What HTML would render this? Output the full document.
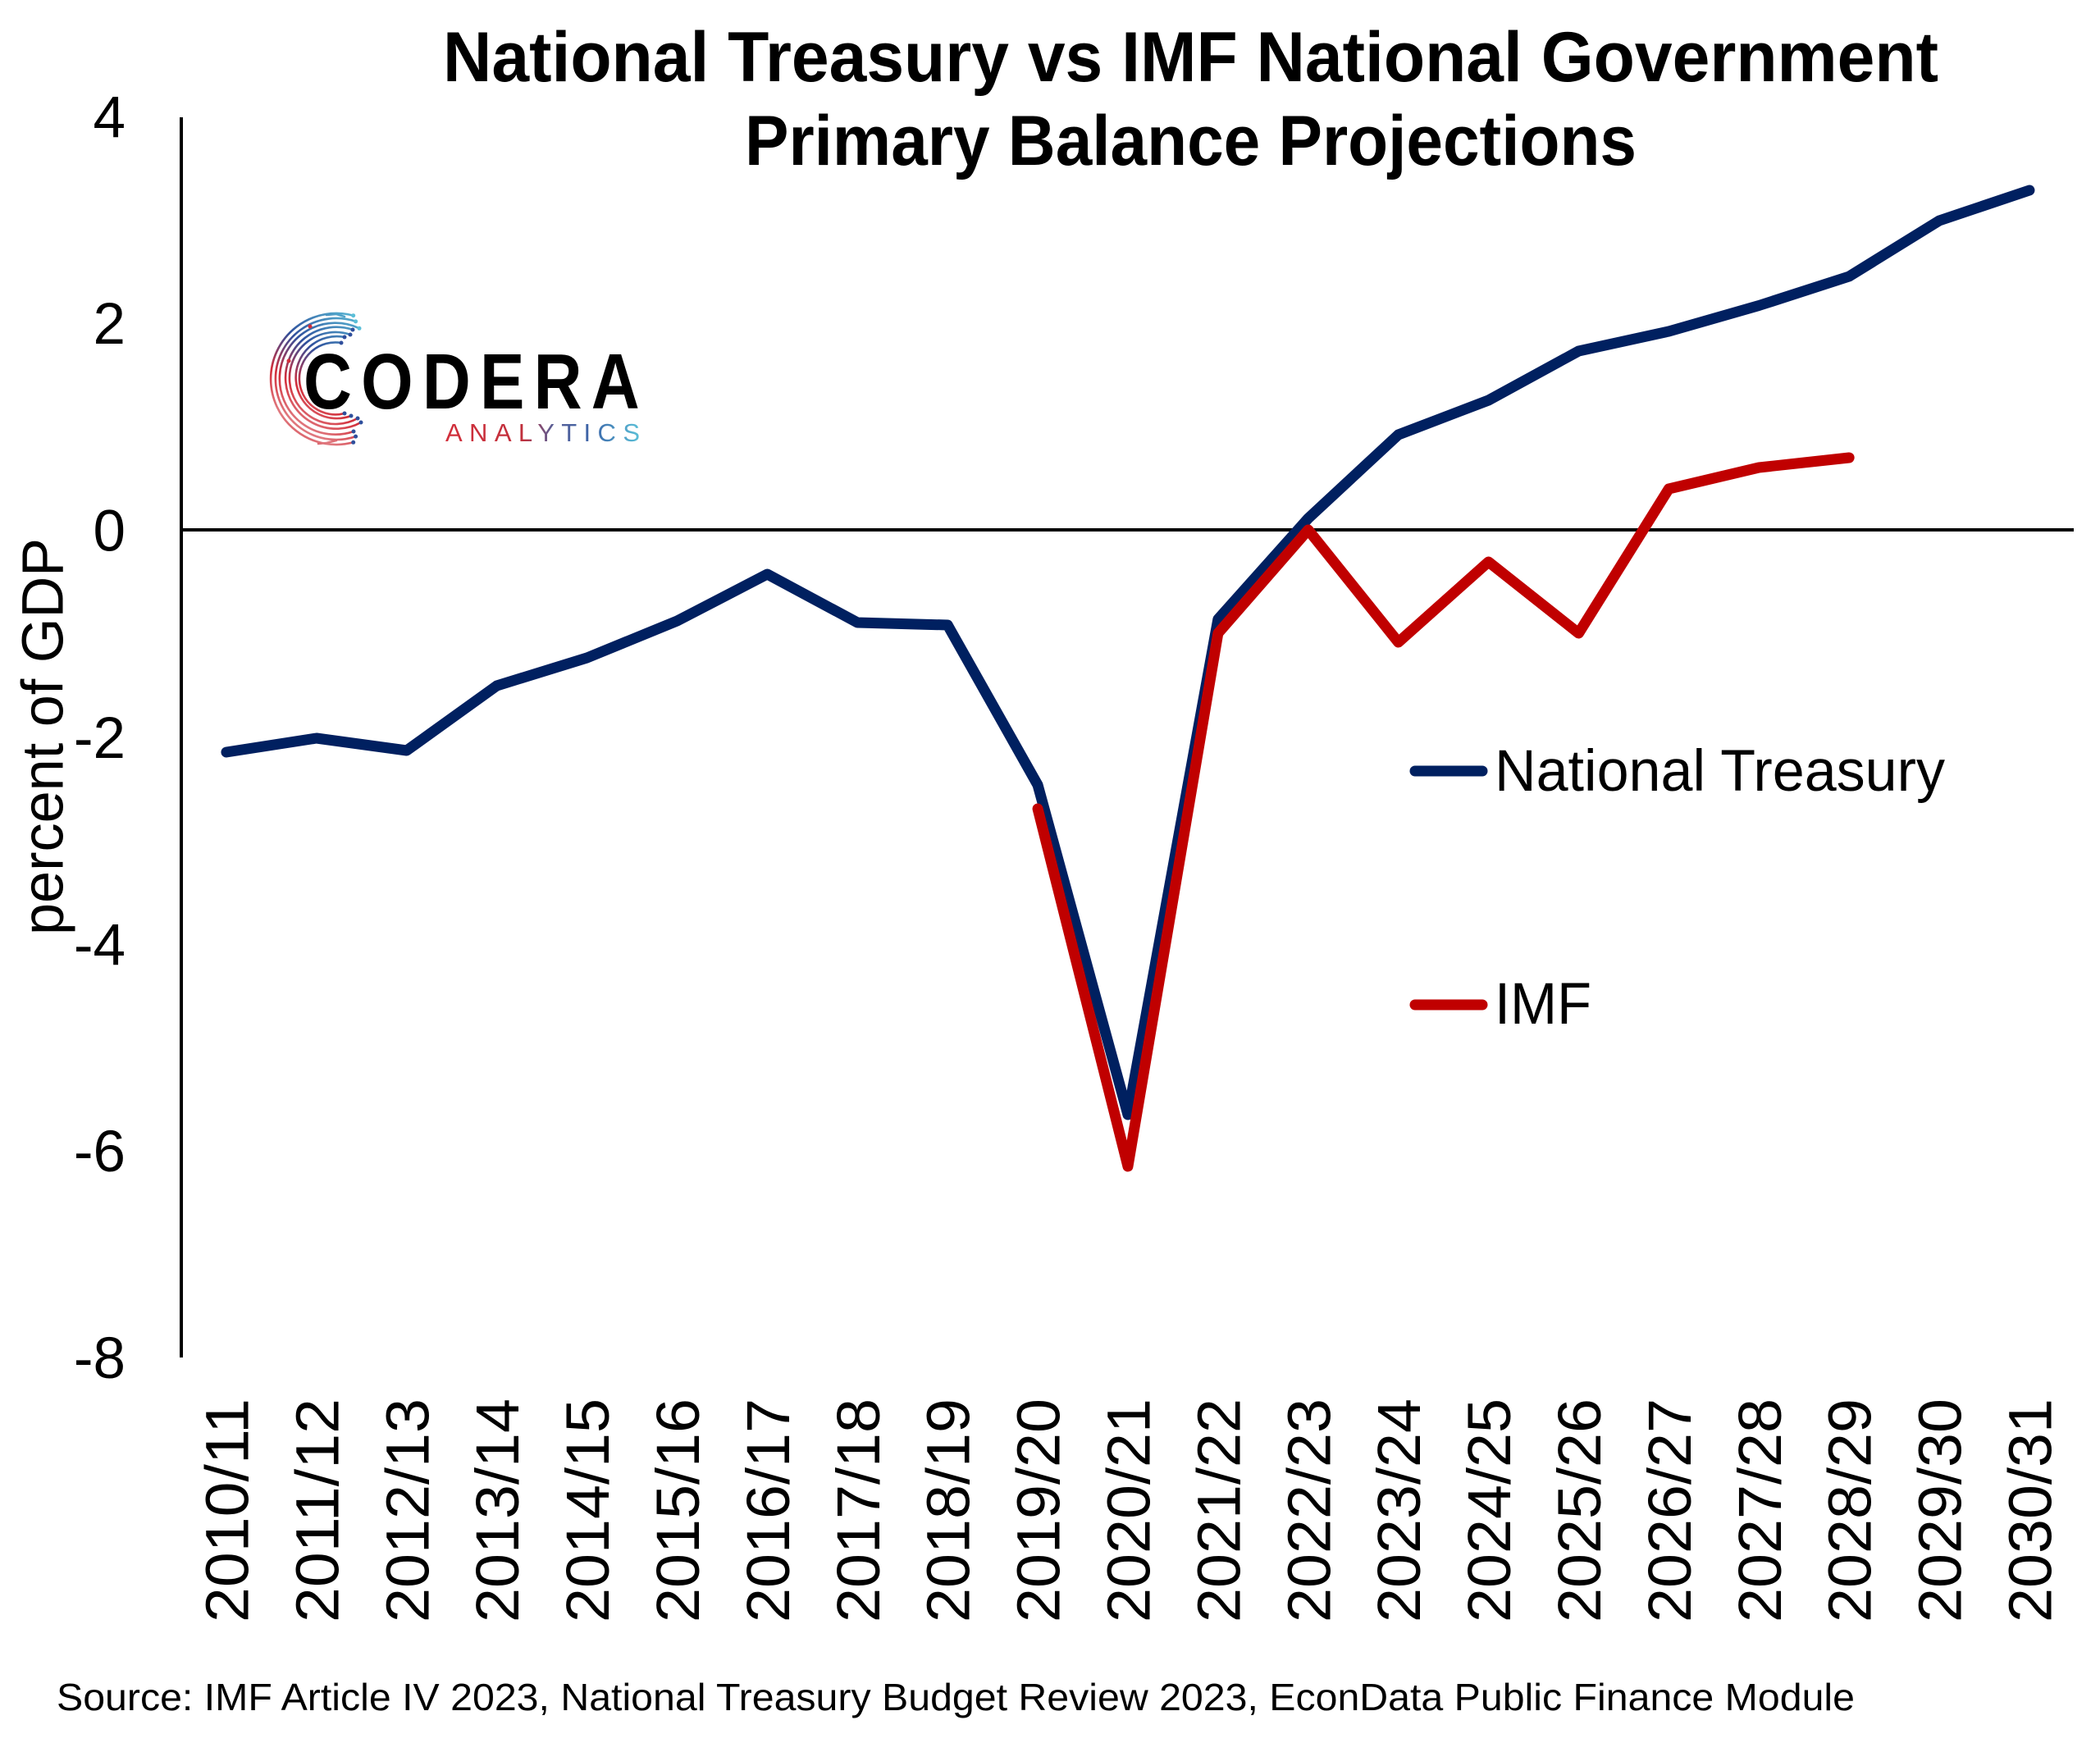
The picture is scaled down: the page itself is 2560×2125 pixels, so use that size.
<!DOCTYPE html>
<html>
<head>
<meta charset="utf-8">
<style>
  html, body { margin: 0; padding: 0; background: #ffffff; }
  svg { display: block; }
  text { font-family: "Liberation Sans", "DejaVu Sans", sans-serif; fill: #000; }
</style>
</head>
<body>
<svg width="2560" height="2125" viewBox="0 0 2560 2125" xmlns="http://www.w3.org/2000/svg">
  <defs>
    <linearGradient id="arcGrad" gradientUnits="userSpaceOnUse" x1="440" y1="380" x2="335" y2="545">
      <stop offset="0" stop-color="#5bbfd8"/>
      <stop offset="0.35" stop-color="#2f4f9c"/>
      <stop offset="0.6" stop-color="#d22f3b"/>
      <stop offset="0.8" stop-color="#e07a80"/>
      <stop offset="1" stop-color="#d22f3b"/>
    </linearGradient>
    <linearGradient id="txtGrad" gradientUnits="userSpaceOnUse" x1="543" y1="0" x2="780" y2="0">
      <stop offset="0" stop-color="#d22f3b"/>
      <stop offset="0.4" stop-color="#c0303c"/>
      <stop offset="0.55" stop-color="#5a5f96"/>
      <stop offset="0.75" stop-color="#3b64a8"/>
      <stop offset="1" stop-color="#5bc0d8"/>
    </linearGradient>
  </defs>

  <rect x="0" y="0" width="2560" height="2125" fill="#ffffff"/>

  <!-- Title -->
  <text x="1451.5" y="99" font-size="86" font-weight="bold" text-anchor="middle" textLength="1823" lengthAdjust="spacingAndGlyphs">National Treasury vs IMF National Government</text>
  <text x="1451.5" y="201" font-size="86" font-weight="bold" text-anchor="middle" textLength="1087" lengthAdjust="spacingAndGlyphs">Primary Balance Projections</text>

  <!-- Logo -->
  <g fill="none" stroke="url(#arcGrad)" stroke-width="2.6" stroke-linecap="round">
    <path d="M 430.7 384.7 A 80 80 0 1 0 430.7 539.3"/>
    <path d="M 433.6 391.9 A 74 74 0 1 0 433.6 532.1"/>
    <path d="M 438.0 400.3 A 68 68 0 1 0 431.0 526.0"/>
    <path d="M 430.0 402.0 A 62 62 0 1 0 440.0 515.0"/>
    <path d="M 427.0 408.0 A 56 56 0 1 0 436.0 510.0"/>
    <path d="M 420.0 411.0 A 50 50 0 1 0 428.0 507.0"/>
    <path d="M 416.0 418.0 A 44 44 0 1 0 420.0 504.0"/>
    <path d="M 398.0 384.0 L 410 383 L 420 386"/>
    <path d="M 388.0 541.0 L 398 540 L 410 537"/>
  </g>
  <g fill="#2f4f9c">
    <circle cx="430.7" cy="384.7" r="2.5" fill="#5bbfd8"/>
    <circle cx="433.6" cy="391.9" r="2.5" fill="#5bbfd8"/>
    <circle cx="438" cy="400.3" r="2.5" fill="#5bbfd8"/>
    <circle cx="430" cy="402" r="2.5"/>
    <circle cx="427" cy="408" r="2.5"/>
    <circle cx="420" cy="411" r="2.5"/>
    <circle cx="416" cy="418" r="2.5"/>
    <circle cx="430.7" cy="539.3" r="2.5"/>
    <circle cx="433.6" cy="532.1" r="2.5"/>
    <circle cx="431" cy="526" r="2.5"/>
    <circle cx="440" cy="515" r="2.5"/>
    <circle cx="436" cy="510" r="2.5"/>
    <circle cx="428" cy="507" r="2.5"/>
    <circle cx="420" cy="504" r="2.5"/>
    <circle cx="378" cy="398" r="2.5" fill="#d22f3b"/>
    <circle cx="352" cy="440" r="2.5" fill="#d22f3b"/>
  </g>
  <g transform="translate(370,498) scale(0.85,1)">
    <text x="0" y="0" font-size="96" font-weight="bold" textLength="482" lengthAdjust="spacing">CODERA</text>
  </g>
  <text x="543" y="538" font-size="31" textLength="237" lengthAdjust="spacing" style="fill:url(#txtGrad)">ANALYTICS</text>

  <!-- Y axis title -->
  <text transform="translate(76.5,898) rotate(-90)" font-size="71" text-anchor="middle" textLength="484" lengthAdjust="spacingAndGlyphs">percent of GDP</text>

  <!-- Y tick labels -->
  <g font-size="71" text-anchor="end">
    <text x="153" y="167">4</text>
    <text x="153" y="419">2</text>
    <text x="153" y="671.5">0</text>
    <text x="153" y="924">-2</text>
    <text x="153" y="1176">-4</text>
    <text x="153" y="1428">-6</text>
    <text x="153" y="1680">-8</text>
  </g>

  <!-- Axes -->
  <line x1="221" y1="143" x2="221" y2="1655" stroke="#000" stroke-width="4"/>
  <line x1="219" y1="646" x2="2528" y2="646" stroke="#000" stroke-width="4"/>

  <!-- Series: National Treasury -->
  <polyline fill="none" stroke="#002060" stroke-width="13" stroke-linecap="round" stroke-linejoin="round"
    points="275.95,917 385.85,900 495.75,915 605.65,836 715.55,802 825.45,757 935.35,700 1045.25,759 1155.15,762 1265.05,957 1374.95,1359 1484.85,755 1594.75,632 1704.65,530 1814.55,488 1924.45,428 2034.35,404 2144.25,372.5 2254.15,337 2364.05,269 2473.95,232"/>

  <!-- Series: IMF -->
  <polyline fill="none" stroke="#C00000" stroke-width="13" stroke-linecap="round" stroke-linejoin="round"
    points="1265.05,986 1374.95,1422 1484.85,772 1594.75,646 1704.65,783 1814.55,685 1924.45,772 2034.35,596 2144.25,570 2254.15,558"/>

  <!-- Legend -->
  <line x1="1725" y1="940" x2="1807" y2="940" stroke="#002060" stroke-width="13" stroke-linecap="round"/>
  <text x="1822" y="964" font-size="71" textLength="549" lengthAdjust="spacingAndGlyphs">National Treasury</text>
  <line x1="1725" y1="1225" x2="1807" y2="1225" stroke="#C00000" stroke-width="13" stroke-linecap="round"/>
  <text x="1822" y="1248" font-size="71" textLength="118" lengthAdjust="spacingAndGlyphs">IMF</text>

  <!-- X labels -->
  <g font-size="74" text-anchor="end">
    <text transform="translate(302.5,1705) rotate(-90)" textLength="273" lengthAdjust="spacingAndGlyphs">2010/11</text>
    <text transform="translate(412.4,1705) rotate(-90)" textLength="273" lengthAdjust="spacingAndGlyphs">2011/12</text>
    <text transform="translate(522.3,1705) rotate(-90)" textLength="273" lengthAdjust="spacingAndGlyphs">2012/13</text>
    <text transform="translate(632.2,1705) rotate(-90)" textLength="273" lengthAdjust="spacingAndGlyphs">2013/14</text>
    <text transform="translate(742.1,1705) rotate(-90)" textLength="273" lengthAdjust="spacingAndGlyphs">2014/15</text>
    <text transform="translate(852,1705) rotate(-90)" textLength="273" lengthAdjust="spacingAndGlyphs">2015/16</text>
    <text transform="translate(961.9,1705) rotate(-90)" textLength="273" lengthAdjust="spacingAndGlyphs">2016/17</text>
    <text transform="translate(1071.8,1705) rotate(-90)" textLength="273" lengthAdjust="spacingAndGlyphs">2017/18</text>
    <text transform="translate(1181.7,1705) rotate(-90)" textLength="273" lengthAdjust="spacingAndGlyphs">2018/19</text>
    <text transform="translate(1291.6,1705) rotate(-90)" textLength="273" lengthAdjust="spacingAndGlyphs">2019/20</text>
    <text transform="translate(1401.5,1705) rotate(-90)" textLength="273" lengthAdjust="spacingAndGlyphs">2020/21</text>
    <text transform="translate(1511.4,1705) rotate(-90)" textLength="273" lengthAdjust="spacingAndGlyphs">2021/22</text>
    <text transform="translate(1621.3,1705) rotate(-90)" textLength="273" lengthAdjust="spacingAndGlyphs">2022/23</text>
    <text transform="translate(1731.2,1705) rotate(-90)" textLength="273" lengthAdjust="spacingAndGlyphs">2023/24</text>
    <text transform="translate(1841.1,1705) rotate(-90)" textLength="273" lengthAdjust="spacingAndGlyphs">2024/25</text>
    <text transform="translate(1951,1705) rotate(-90)" textLength="273" lengthAdjust="spacingAndGlyphs">2025/26</text>
    <text transform="translate(2060.9,1705) rotate(-90)" textLength="273" lengthAdjust="spacingAndGlyphs">2026/27</text>
    <text transform="translate(2170.8,1705) rotate(-90)" textLength="273" lengthAdjust="spacingAndGlyphs">2027/28</text>
    <text transform="translate(2280.7,1705) rotate(-90)" textLength="273" lengthAdjust="spacingAndGlyphs">2028/29</text>
    <text transform="translate(2390.6,1705) rotate(-90)" textLength="273" lengthAdjust="spacingAndGlyphs">2029/30</text>
    <text transform="translate(2500.5,1705) rotate(-90)" textLength="273" lengthAdjust="spacingAndGlyphs">2030/31</text>
  </g>

  <!-- Source -->
  <text x="69" y="2085" font-size="46" textLength="2192" lengthAdjust="spacingAndGlyphs">Source: IMF Article IV 2023, National Treasury Budget Review 2023, EconData Public Finance Module</text>
</svg>
</body>
</html>
